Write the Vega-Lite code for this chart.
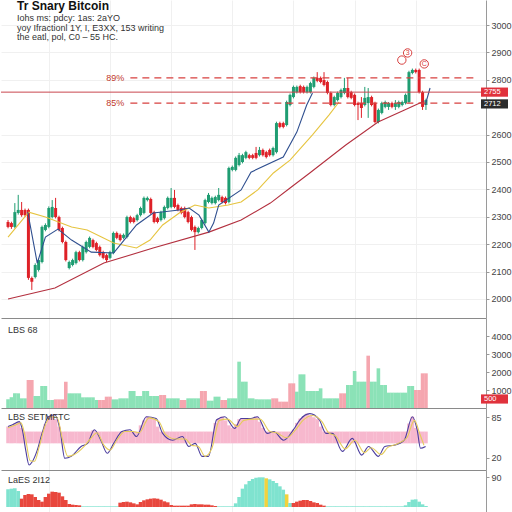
{
"$schema": "https://vega.github.io/schema/vega-lite/v6.json",
"padding": 0,
"spacing": 0,
"bounds": "flush",
"background": "white",
"resolve": {"scale": {"color": "independent"}},
"config": {"view": {"stroke": null}, "font": "Liberation Sans", "axis": {"labelFont": "Liberation Sans", "labelColor": "#444", "labelFontSize": 9, "domainColor": "#9a9a9a", "tickColor": "#9a9a9a", "tickSize": 3, "gridColor": "#f0f0f0", "title": null, "labelOverlap": false, "labelPadding": 2, "format": "d"}},
"datasets": {
"candles": [
{"i":0,"o":2281,"h":2288,"l":2258,"c":2263,"v":480,"vd":"g","k":70,"m":53,"md":"c"},
{"i":1,"o":2277,"h":2282,"l":2256,"c":2263,"v":600,"vd":"g","k":72,"m":55,"md":"c"},
{"i":2,"o":2263,"h":2350,"l":2258,"c":2317,"v":815,"vd":"g","k":75,"m":56,"md":"c"},
{"i":3,"o":2314,"h":2380,"l":2308,"c":2325,"v":815,"vd":"g","k":77,"m":48,"md":"c"},
{"i":4,"o":2325,"h":2354,"l":2300,"c":2306,"v":537,"vd":"g","k":68,"m":25,"md":"r"},
{"i":5,"o":2325,"h":2330,"l":2300,"c":2306,"v":537,"vd":"g","k":62,"m":36,"md":"r"},
{"i":6,"o":2325,"h":2330,"l":2070,"c":2077,"v":1556,"vd":"p","k":62,"m":39,"md":"r"},
{"i":7,"o":2077,"h":2082,"l":2033,"c":2063,"v":1556,"vd":"p","k":62,"m":38,"md":"r"},
{"i":8,"o":2080,"h":2130,"l":2075,"c":2124,"v":667,"vd":"g","k":62,"m":30,"md":"r"},
{"i":9,"o":2106,"h":2148,"l":2100,"c":2142,"v":667,"vd":"g","k":62,"m":21,"md":"r"},
{"i":10,"o":2135,"h":2268,"l":2130,"c":2263,"v":1222,"vd":"g","k":62,"m":16,"md":"r"},
{"i":11,"o":2252,"h":2276,"l":2247,"c":2270,"v":1222,"vd":"g","k":74,"m":30,"md":"r"},
{"i":12,"o":2263,"h":2338,"l":2258,"c":2332,"v":444,"vd":"g","k":87,"m":40,"md":"r"},
{"i":13,"o":2299,"h":2361,"l":2294,"c":2336,"v":444,"vd":"g","k":88,"m":46,"md":"r"},
{"i":14,"o":2332,"h":2369,"l":2294,"c":2299,"v":480,"vd":"p","k":82,"m":45,"md":"r"},
{"i":15,"o":2299,"h":2304,"l":2247,"c":2252,"v":480,"vd":"p","k":70,"m":43,"md":"r"},
{"i":16,"o":2259,"h":2264,"l":2203,"c":2208,"v":480,"vd":"p","k":62,"m":32,"md":"r"},
{"i":17,"o":2208,"h":2213,"l":2137,"c":2142,"v":1463,"vd":"p","k":62,"m":21,"md":"r"},
{"i":18,"o":2113,"h":2140,"l":2108,"c":2135,"v":815,"vd":"g","k":62,"m":9,"md":"r"},
{"i":19,"o":2124,"h":2147,"l":2119,"c":2142,"v":815,"vd":"g","k":62,"m":7,"md":"r"},
{"i":20,"o":2131,"h":2176,"l":2126,"c":2171,"v":815,"vd":"g","k":62,"m":6,"md":"r"},
{"i":21,"o":2171,"h":2176,"l":2137,"c":2142,"v":815,"vd":"g","k":62,"m":5,"md":"r"},
{"i":22,"o":2142,"h":2195,"l":2137,"c":2190,"v":593,"vd":"g","k":62,"m":2,"md":"c"},
{"i":23,"o":2171,"h":2213,"l":2166,"c":2208,"v":593,"vd":"g","k":62,"m":2,"md":"c"},
{"i":24,"o":2190,"h":2228,"l":2185,"c":2223,"v":593,"vd":"g","k":62,"m":2,"md":"c"},
{"i":25,"o":2215,"h":2220,"l":2185,"c":2190,"v":593,"vd":"g","k":64,"m":2,"md":"c"},
{"i":26,"o":2204,"h":2209,"l":2174,"c":2179,"v":444,"vd":"g","k":62,"m":2,"md":"c"},
{"i":27,"o":2190,"h":2195,"l":2155,"c":2160,"v":444,"vd":"p","k":62,"m":2,"md":"c"},
{"i":28,"o":2171,"h":2176,"l":2145,"c":2150,"v":444,"vd":"p","k":62,"m":2,"md":"c"},
{"i":29,"o":2160,"h":2165,"l":2135,"c":2142,"v":630,"vd":"p","k":62,"m":2,"md":"c"},
{"i":30,"o":2150,"h":2176,"l":2145,"c":2171,"v":630,"vd":"p","k":62,"m":2,"md":"c"},
{"i":31,"o":2168,"h":2246,"l":2163,"c":2241,"v":480,"vd":"g","k":62,"m":2,"md":"c"},
{"i":32,"o":2241,"h":2246,"l":2218,"c":2223,"v":480,"vd":"g","k":62,"m":2,"md":"c"},
{"i":33,"o":2234,"h":2239,"l":2210,"c":2215,"v":537,"vd":"g","k":62,"m":13,"md":"r"},
{"i":34,"o":2223,"h":2239,"l":2218,"c":2234,"v":537,"vd":"g","k":63,"m":15,"md":"r"},
{"i":35,"o":2226,"h":2304,"l":2221,"c":2299,"v":537,"vd":"g","k":64,"m":16,"md":"r"},
{"i":36,"o":2299,"h":2304,"l":2276,"c":2281,"v":944,"vd":"g","k":62,"m":14,"md":"r"},
{"i":37,"o":2295,"h":2300,"l":2276,"c":2281,"v":944,"vd":"g","k":62,"m":11,"md":"r"},
{"i":38,"o":2288,"h":2311,"l":2283,"c":2306,"v":667,"vd":"g","k":62,"m":8,"md":"r"},
{"i":39,"o":2306,"h":2337,"l":2301,"c":2332,"v":667,"vd":"g","k":72,"m":15,"md":"r"},
{"i":40,"o":2314,"h":2374,"l":2309,"c":2369,"v":944,"vd":"g","k":80,"m":20,"md":"r"},
{"i":41,"o":2361,"h":2374,"l":2356,"c":2369,"v":944,"vd":"g","k":86,"m":23,"md":"r"},
{"i":42,"o":2365,"h":2370,"l":2309,"c":2314,"v":667,"vd":"g","k":85,"m":25,"md":"r"},
{"i":43,"o":2317,"h":2322,"l":2276,"c":2281,"v":667,"vd":"g","k":83,"m":26,"md":"r"},
{"i":44,"o":2295,"h":2300,"l":2276,"c":2281,"v":667,"vd":"g","k":70,"m":25,"md":"r"},
{"i":45,"o":2288,"h":2322,"l":2283,"c":2317,"v":722,"vd":"p","k":62,"m":22,"md":"r"},
{"i":46,"o":2295,"h":2341,"l":2290,"c":2336,"v":722,"vd":"p","k":62,"m":17,"md":"r"},
{"i":47,"o":2332,"h":2374,"l":2327,"c":2369,"v":537,"vd":"g","k":62,"m":14,"md":"r"},
{"i":48,"o":2336,"h":2405,"l":2331,"c":2369,"v":537,"vd":"g","k":62,"m":6,"md":"r"},
{"i":49,"o":2369,"h":2398,"l":2331,"c":2336,"v":537,"vd":"g","k":62,"m":4,"md":"r"},
{"i":50,"o":2343,"h":2348,"l":2320,"c":2325,"v":537,"vd":"g","k":62,"m":4,"md":"r"},
{"i":51,"o":2332,"h":2337,"l":2309,"c":2314,"v":444,"vd":"p","k":62,"m":4,"md":"r"},
{"i":52,"o":2332,"h":2337,"l":2294,"c":2299,"v":444,"vd":"p","k":62,"m":4,"md":"r"},
{"i":53,"o":2317,"h":2322,"l":2276,"c":2281,"v":537,"vd":"g","k":62,"m":4,"md":"r"},
{"i":54,"o":2299,"h":2304,"l":2247,"c":2252,"v":537,"vd":"g","k":62,"m":8,"md":"r"},
{"i":55,"o":2263,"h":2268,"l":2179,"c":2244,"v":537,"vd":"g","k":62,"m":9,"md":"r"},
{"i":56,"o":2244,"h":2264,"l":2239,"c":2259,"v":537,"vd":"g","k":62,"m":8,"md":"r"},
{"i":57,"o":2259,"h":2293,"l":2254,"c":2288,"v":944,"vd":"p","k":62,"m":8,"md":"r"},
{"i":58,"o":2277,"h":2366,"l":2272,"c":2361,"v":944,"vd":"p","k":62,"m":7,"md":"r"},
{"i":59,"o":2354,"h":2387,"l":2349,"c":2380,"v":407,"vd":"g","k":62,"m":7,"md":"r"},
{"i":60,"o":2350,"h":2374,"l":2345,"c":2369,"v":407,"vd":"g","k":62,"m":5,"md":"r"},
{"i":61,"o":2350,"h":2377,"l":2345,"c":2372,"v":630,"vd":"g","k":76,"m":3,"md":"r"},
{"i":62,"o":2361,"h":2405,"l":2356,"c":2380,"v":630,"vd":"g","k":83,"m":2,"md":"c"},
{"i":63,"o":2372,"h":2377,"l":2349,"c":2354,"v":444,"vd":"p","k":86,"m":2,"md":"c"},
{"i":64,"o":2369,"h":2374,"l":2345,"c":2350,"v":444,"vd":"p","k":80,"m":2,"md":"c"},
{"i":65,"o":2354,"h":2483,"l":2349,"c":2478,"v":537,"vd":"g","k":72,"m":2,"md":"c"},
{"i":66,"o":2471,"h":2487,"l":2466,"c":2482,"v":537,"vd":"g","k":68,"m":2,"md":"c"},
{"i":67,"o":2471,"h":2520,"l":2466,"c":2515,"v":537,"vd":"g","k":74,"m":11,"md":"c"},
{"i":68,"o":2489,"h":2533,"l":2484,"c":2525,"v":2574,"vd":"g","k":82,"m":30,"md":"c"},
{"i":69,"o":2500,"h":2530,"l":2495,"c":2525,"v":1463,"vd":"g","k":83,"m":55,"md":"c"},
{"i":70,"o":2515,"h":2541,"l":2510,"c":2536,"v":1463,"vd":"g","k":83,"m":68,"md":"c"},
{"i":71,"o":2525,"h":2530,"l":2510,"c":2515,"v":537,"vd":"g","k":83,"m":78,"md":"c"},
{"i":72,"o":2525,"h":2530,"l":2510,"c":2515,"v":537,"vd":"g","k":84,"m":84,"md":"c"},
{"i":73,"o":2533,"h":2555,"l":2510,"c":2515,"v":480,"vd":"g","k":86,"m":88,"md":"c"},
{"i":74,"o":2525,"h":2555,"l":2520,"c":2544,"v":480,"vd":"g","k":78,"m":89,"md":"c"},
{"i":75,"o":2544,"h":2549,"l":2520,"c":2525,"v":480,"vd":"g","k":68,"m":89,"md":"c"},
{"i":76,"o":2536,"h":2541,"l":2513,"c":2518,"v":480,"vd":"g","k":62,"m":86,"md":"y"},
{"i":77,"o":2544,"h":2549,"l":2520,"c":2525,"v":480,"vd":"g","k":62,"m":83,"md":"c"},
{"i":78,"o":2525,"h":2556,"l":2520,"c":2551,"v":537,"vd":"p","k":62,"m":78,"md":"c"},
{"i":79,"o":2536,"h":2647,"l":2531,"c":2642,"v":537,"vd":"p","k":62,"m":72,"md":"c"},
{"i":80,"o":2642,"h":2647,"l":2623,"c":2628,"v":352,"vd":"p","k":62,"m":62,"md":"c"},
{"i":81,"o":2642,"h":2647,"l":2623,"c":2628,"v":352,"vd":"p","k":62,"m":52,"md":"c"},
{"i":82,"o":2635,"h":2724,"l":2630,"c":2719,"v":352,"vd":"p","k":62,"m":38,"md":"y"},
{"i":83,"o":2708,"h":2750,"l":2703,"c":2745,"v":1370,"vd":"p","k":62,"m":12,"md":"c"},
{"i":84,"o":2737,"h":2779,"l":2732,"c":2774,"v":1370,"vd":"p","k":65,"m":12,"md":"r"},
{"i":85,"o":2755,"h":2779,"l":2750,"c":2774,"v":907,"vd":"g","k":76,"m":16,"md":"r"},
{"i":86,"o":2777,"h":2782,"l":2750,"c":2755,"v":1870,"vd":"g","k":83,"m":19,"md":"r"},
{"i":87,"o":2774,"h":2779,"l":2750,"c":2755,"v":1870,"vd":"g","k":87,"m":21,"md":"r"},
{"i":88,"o":2755,"h":2779,"l":2750,"c":2774,"v":944,"vd":"g","k":91,"m":21,"md":"r"},
{"i":89,"o":2755,"h":2793,"l":2750,"c":2788,"v":944,"vd":"g","k":88,"m":18,"md":"r"},
{"i":90,"o":2774,"h":2812,"l":2769,"c":2807,"v":944,"vd":"g","k":85,"m":14,"md":"r"},
{"i":91,"o":2807,"h":2828,"l":2791,"c":2796,"v":944,"vd":"g","k":82,"m":12,"md":"r"},
{"i":92,"o":2807,"h":2812,"l":2787,"c":2792,"v":1093,"vd":"g","k":70,"m":7,"md":"r"},
{"i":93,"o":2799,"h":2828,"l":2776,"c":2781,"v":537,"vd":"g","k":62,"m":4,"md":"r"},
{"i":94,"o":2792,"h":2797,"l":2747,"c":2752,"v":537,"vd":"g","k":62,"m":2,"md":"c"},
{"i":95,"o":2752,"h":2757,"l":2703,"c":2708,"v":537,"vd":"g","k":62,"m":2,"md":"c"},
{"i":96,"o":2708,"h":2742,"l":2703,"c":2737,"v":537,"vd":"g","k":62,"m":2,"md":"c"},
{"i":97,"o":2726,"h":2757,"l":2721,"c":2752,"v":537,"vd":"g","k":62,"m":2,"md":"c"},
{"i":98,"o":2737,"h":2768,"l":2732,"c":2763,"v":815,"vd":"p","k":62,"m":2,"md":"c"},
{"i":99,"o":2752,"h":2807,"l":2747,"c":2770,"v":815,"vd":"p","k":62,"m":2,"md":"c"},
{"i":100,"o":2770,"h":2807,"l":2732,"c":2737,"v":1278,"vd":"g","k":62,"m":2,"md":"c"},
{"i":101,"o":2755,"h":2760,"l":2729,"c":2734,"v":1278,"vd":"g","k":62,"m":2,"md":"c"},
{"i":102,"o":2745,"h":2750,"l":2703,"c":2708,"v":2056,"vd":"g","k":62,"m":2,"md":"c"},
{"i":103,"o":2715,"h":2720,"l":2653,"c":2708,"v":1463,"vd":"g","k":62,"m":2,"md":"c"},
{"i":104,"o":2715,"h":2737,"l":2661,"c":2697,"v":1463,"vd":"g","k":62,"m":2,"md":"c"},
{"i":105,"o":2708,"h":2774,"l":2703,"c":2734,"v":1463,"vd":"g","k":62,"m":2,"md":"c"},
{"i":106,"o":2715,"h":2770,"l":2661,"c":2737,"v":2907,"vd":"p","k":62,"m":2,"md":"c"},
{"i":107,"o":2737,"h":2742,"l":2703,"c":2708,"v":1463,"vd":"g","k":62,"m":2,"md":"c"},
{"i":108,"o":2715,"h":2720,"l":2641,"c":2646,"v":1463,"vd":"g","k":62,"m":2,"md":"c"},
{"i":109,"o":2646,"h":2695,"l":2641,"c":2690,"v":2204,"vd":"g","k":62,"m":2,"md":"c"},
{"i":110,"o":2679,"h":2720,"l":2674,"c":2715,"v":1278,"vd":"g","k":62,"m":2,"md":"c"},
{"i":111,"o":2701,"h":2724,"l":2696,"c":2719,"v":1278,"vd":"g","k":62,"m":2,"md":"c"},
{"i":112,"o":2701,"h":2719,"l":2690,"c":2715,"v":852,"vd":"g","k":62,"m":2,"md":"c"},
{"i":113,"o":2715,"h":2720,"l":2696,"c":2701,"v":852,"vd":"g","k":62,"m":2,"md":"c"},
{"i":114,"o":2701,"h":2726,"l":2690,"c":2715,"v":852,"vd":"g","k":62,"m":2,"md":"c"},
{"i":115,"o":2701,"h":2724,"l":2696,"c":2719,"v":852,"vd":"g","k":62,"m":2,"md":"c"},
{"i":116,"o":2708,"h":2724,"l":2703,"c":2719,"v":852,"vd":"g","k":62,"m":2,"md":"c"},
{"i":117,"o":2715,"h":2750,"l":2710,"c":2745,"v":852,"vd":"g","k":62,"m":5,"md":"c"},
{"i":118,"o":2719,"h":2833,"l":2714,"c":2828,"v":1222,"vd":"g","k":75,"m":15,"md":"c"},
{"i":119,"o":2825,"h":2841,"l":2820,"c":2836,"v":1222,"vd":"g","k":86,"m":22,"md":"c"},
{"i":120,"o":2836,"h":2841,"l":2823,"c":2828,"v":1000,"vd":"p","k":68,"m":23,"md":"c"},
{"i":121,"o":2836,"h":2841,"l":2750,"c":2755,"v":1000,"vd":"p","k":62,"m":16,"md":"c"},
{"i":122,"o":2755,"h":2760,"l":2690,"c":2701,"v":1926,"vd":"p","k":62,"m":8,"md":"c"},
{"i":123,"o":2708,"h":2731,"l":2690,"c":2726,"v":1926,"vd":"p","k":62,"m":3,"md":"c"}
],
"ma": [
{"s":"slow","i":0,"p":2000},{"s":"slow","i":13.8,"p":2040},{"s":"slow","i":28.2,"p":2131},{"s":"slow","i":42.7,"p":2186},{"s":"slow","i":59.1,"p":2244},{"s":"slow","i":68.6,"p":2288},{"s":"slow","i":77.2,"p":2350},{"s":"slow","i":83,"p":2405},{"s":"slow","i":88.8,"p":2460},{"s":"slow","i":99.4,"p":2562},{"s":"slow","i":108.9,"p":2646},{"s":"slow","i":116.7,"p":2690},{"s":"slow","i":122.5,"p":2723},
{"s":"mid","i":0,"p":2226},{"s":"mid","i":6.1,"p":2317},{"s":"mid","i":11,"p":2299},{"s":"mid","i":18.7,"p":2263},{"s":"mid","i":23.3,"p":2252},{"s":"mid","i":31.1,"p":2204},{"s":"mid","i":37.8,"p":2186},{"s":"mid","i":41.8,"p":2215},{"s":"mid","i":45.5,"p":2270},{"s":"mid","i":50.4,"p":2314},{"s":"mid","i":55,"p":2343},{"s":"mid","i":59.1,"p":2332},{"s":"mid","i":64.8,"p":2343},{"s":"mid","i":68.6,"p":2354},{"s":"mid","i":73.5,"p":2398},{"s":"mid","i":78.1,"p":2460},{"s":"mid","i":83,"p":2507},{"s":"mid","i":89.6,"p":2599},{"s":"mid","i":94.5,"p":2672},{"s":"mid","i":97.4,"p":2719},
{"s":"fast","i":5.8,"p":2317},{"s":"fast","i":8.6,"p":2131},{"s":"fast","i":11,"p":2226},{"s":"fast","i":14.7,"p":2255},{"s":"fast","i":18.7,"p":2215},{"s":"fast","i":24.5,"p":2171},{"s":"fast","i":31.1,"p":2168},{"s":"fast","i":37.8,"p":2270},{"s":"fast","i":42.7,"p":2314},{"s":"fast","i":50.4,"p":2325},{"s":"fast","i":53.3,"p":2332},{"s":"fast","i":56.2,"p":2306},{"s":"fast","i":59.1,"p":2244},{"s":"fast","i":60.5,"p":2277},{"s":"fast","i":62,"p":2343},{"s":"fast","i":68.6,"p":2398},{"s":"fast","i":71.5,"p":2463},{"s":"fast","i":81,"p":2518},{"s":"fast","i":85,"p":2609},{"s":"fast","i":87.9,"p":2708},{"s":"fast","i":89.6,"p":2752},
{"s":"fast2","i":122.8,"p":2708},{"s":"fast2","i":124.2,"p":2770}
],
"osc": [
{"s":"k","i":0,"v":70},{"s":"k","i":1.3,"v":73},{"s":"k","i":3.3,"v":78},{"s":"k","i":4.2,"v":65},{"s":"k","i":5.2,"v":32},{"s":"k","i":6.2,"v":8},{"s":"k","i":7.1,"v":13},{"s":"k","i":8.6,"v":32},{"s":"k","i":10,"v":59},{"s":"k","i":11.9,"v":86},{"s":"k","i":13.8,"v":89},{"s":"k","i":15.3,"v":65},{"s":"k","i":16.7,"v":19},{"s":"k","i":18.6,"v":22},{"s":"k","i":21.5,"v":38},{"s":"k","i":23.4,"v":43},{"s":"k","i":25.4,"v":65},{"s":"k","i":27.3,"v":48},{"s":"k","i":29.2,"v":27},{"s":"k","i":31.1,"v":43},{"s":"k","i":33.5,"v":62},{"s":"k","i":35.9,"v":65},{"s":"k","i":37.8,"v":54},{"s":"k","i":40.7,"v":86},{"s":"k","i":43.6,"v":83},{"s":"k","i":45.5,"v":59},{"s":"k","i":48.4,"v":48},{"s":"k","i":51.3,"v":54},{"s":"k","i":53.2,"v":38},{"s":"k","i":55.1,"v":43},{"s":"k","i":57.1,"v":22},{"s":"k","i":59,"v":22},{"s":"k","i":61.4,"v":81},{"s":"k","i":63.8,"v":86},{"s":"k","i":66.7,"v":67},{"s":"k","i":68.6,"v":83},{"s":"k","i":71.5,"v":83},{"s":"k","i":73.4,"v":86},{"s":"k","i":76.3,"v":59},{"s":"k","i":78.2,"v":62},{"s":"k","i":81.1,"v":48},{"s":"k","i":84,"v":65},{"s":"k","i":85.9,"v":81},{"s":"k","i":88.8,"v":91},{"s":"k","i":91.6,"v":81},{"s":"k","i":93.6,"v":59},{"s":"k","i":95.5,"v":59},{"s":"k","i":98.4,"v":30},{"s":"k","i":101.3,"v":51},{"s":"k","i":104.1,"v":24},{"s":"k","i":106.1,"v":38},{"s":"k","i":109,"v":22},{"s":"k","i":110.9,"v":38},{"s":"k","i":113.7,"v":40},{"s":"k","i":116.6,"v":48},{"s":"k","i":119,"v":86},{"s":"k","i":120.4,"v":65},{"s":"k","i":121.4,"v":35},{"s":"k","i":122.9,"v":38},
{"s":"d","i":0,"v":68},{"s":"d","i":2,"v":72},{"s":"d","i":3.8,"v":76},{"s":"d","i":5,"v":55},{"s":"d","i":6.5,"v":15},{"s":"d","i":7.8,"v":14},{"s":"d","i":9.2,"v":38},{"s":"d","i":10.8,"v":70},{"s":"d","i":12.6,"v":86},{"s":"d","i":14.4,"v":85},{"s":"d","i":16,"v":50},{"s":"d","i":17.6,"v":22},{"s":"d","i":19.5,"v":25},{"s":"d","i":22.4,"v":38},{"s":"d","i":24.2,"v":50},{"s":"d","i":26.2,"v":60},{"s":"d","i":28.2,"v":40},{"s":"d","i":30,"v":32},{"s":"d","i":32,"v":48},{"s":"d","i":34.4,"v":62},{"s":"d","i":36.8,"v":62},{"s":"d","i":38.6,"v":60},{"s":"d","i":41.5,"v":84},{"s":"d","i":44.4,"v":78},{"s":"d","i":46.4,"v":57},{"s":"d","i":49.3,"v":50},{"s":"d","i":52.2,"v":50},{"s":"d","i":54,"v":40},{"s":"d","i":56,"v":38},{"s":"d","i":58,"v":22},{"s":"d","i":60,"v":35},{"s":"d","i":62.2,"v":80},{"s":"d","i":64.6,"v":82},{"s":"d","i":67.5,"v":70},{"s":"d","i":69.4,"v":80},{"s":"d","i":72.4,"v":82},{"s":"d","i":74.2,"v":82},{"s":"d","i":77.1,"v":62},{"s":"d","i":79,"v":60},{"s":"d","i":82,"v":52},{"s":"d","i":84.8,"v":66},{"s":"d","i":86.8,"v":80},{"s":"d","i":89.6,"v":88},{"s":"d","i":92.4,"v":78},{"s":"d","i":94.4,"v":60},{"s":"d","i":96.4,"v":55},{"s":"d","i":99.2,"v":34},{"s":"d","i":102.1,"v":48},{"s":"d","i":104.9,"v":28},{"s":"d","i":106.9,"v":36},{"s":"d","i":109.8,"v":25},{"s":"d","i":111.7,"v":36},{"s":"d","i":114.5,"v":42},{"s":"d","i":117.4,"v":52},{"s":"d","i":119.6,"v":80},{"s":"d","i":121.2,"v":58},{"s":"d","i":122.4,"v":40}
],
"levels": [{"p":2807,"x1":36,"x2":137,"lab":"89%"},{"p":2715,"x1":36,"x2":137,"lab":"85%"}],
"tags": [{"p":2755,"t":"2755","k":"r"},{"p":2712,"t":"2712","k":"d"}],
"notes": [{"i":117.6,"p":2898,"t":"3"},{"i":115.9,"p":2872,"t":""},{"i":122.5,"p":2858,"t":"C"}]
},
"vconcat": [
{
"width": 485, "height": 318,
"title": {"text": "Tr Snary Bitcoin", "subtitle": ["Iohs ms: pdcy: 1as: 2aYO", "yoy Ifractionl 1Y, I, E3XX, 153 writing", "the eatl, pol, C0 – 55 HC."], "anchor": "start", "frame": "group", "orient": "top", "offset": -43, "dx": 16, "font": "Liberation Sans", "fontSize": 12, "fontWeight": "bold", "color": "#111", "subtitleFont": "Liberation Sans", "subtitleFontSize": 9, "subtitleColor": "#333", "subtitlePadding": 1, "subtitleLineHeight": 9.5},
"resolve": {"scale": {"color": "independent"}},
"layer": [
{"data": {"name": "candles"}, "mark": {"type": "rule", "strokeWidth": 1},
 "encoding": {
  "x": {"field": "i", "type": "quantitative", "scale": {"domain": [-0.6, 139.2], "nice": false, "zero": false}, "axis": {"orient": "bottom", "labels": false, "ticks": false, "domain": false, "grid": true, "values": [12, 30, 48, 66, 84, 102, 120], "tickCount": 20, "title": null}},
  "y": {"field": "l", "type": "quantitative", "scale": {"domain": [1930.6, 3091.25], "nice": false, "zero": false}, "axis": {"orient": "right", "grid": true, "values": [2000, 2100, 2200, 2300, 2400, 2500, 2600, 2800, 2900, 3000], "tickCount": 20, "title": null, "format": "d", "labelOverlap": false}},
  "y2": {"field": "h"},
  "color": {"condition": {"test": "datum.c >= datum.o", "value": "#1f9d72"}, "value": "#de2128"}}},
{"data": {"name": "candles"}, "mark": {"type": "bar", "size": 3},
 "encoding": {
  "x": {"field": "i", "type": "quantitative"},
  "y": {"field": "o", "type": "quantitative"},
  "y2": {"field": "c"},
  "color": {"condition": {"test": "datum.c >= datum.o", "value": "#1f9d72"}, "value": "#de2128"}}},
{"data": {"name": "ma"}, "mark": {"type": "line", "strokeWidth": 1.1},
 "encoding": {
  "x": {"field": "i", "type": "quantitative"},
  "y": {"field": "p", "type": "quantitative"},
  "detail": {"field": "s"},
  "color": {"field": "s", "type": "nominal", "scale": {"domain": ["slow", "mid", "fast", "fast2"], "range": ["#b3303f", "#e6c43f", "#2f4f8f", "#2f4f8f"]}, "legend": null}}},
{"data": {"name": "levels"}, "mark": {"type": "rule", "strokeDash": [7, 5], "strokeWidth": 1.2, "color": "#d8403f"},
 "encoding": {
  "x": {"field": "x1", "type": "quantitative"},
  "x2": {"field": "x2"},
  "y": {"field": "p", "type": "quantitative"}}},
{"data": {"name": "levels"}, "mark": {"type": "text", "align": "right", "baseline": "middle", "dx": -6, "fontSize": 9, "color": "#c0392b"},
 "encoding": {
  "x": {"field": "x1", "type": "quantitative"},
  "y": {"field": "p", "type": "quantitative"},
  "text": {"field": "lab"}}},
{"data": {"values": [{"p": 2755}]}, "mark": {"type": "rule", "strokeWidth": 1, "color": "#c9474f"},
 "encoding": {"y": {"field": "p", "type": "quantitative"}}},
{"data": {"name": "tags"}, "mark": {"type": "point", "filled": true, "opacity": 1, "size": 729, "shape": "M0,-0.34L2,-0.34L2,0.34L0,0.34Z", "clip": false},
 "encoding": {
  "x": {"datum": 139.2, "type": "quantitative"},
  "y": {"field": "p", "type": "quantitative"},
  "color": {"field": "k", "type": "nominal", "scale": {"domain": ["r", "d"], "range": ["#e0323c", "#2b2b2b"]}, "legend": null}}},
{"data": {"name": "tags"}, "mark": {"type": "text", "align": "left", "baseline": "middle", "dx": 3, "fontSize": 7.5, "color": "white"},
 "encoding": {
  "x": {"datum": 139.2, "type": "quantitative"},
  "y": {"field": "p", "type": "quantitative"},
  "text": {"field": "t"}}},
{"data": {"name": "notes"}, "mark": {"type": "point", "shape": "circle", "size": 70, "stroke": "#d8403f", "strokeWidth": 1, "fill": "white", "filled": false, "opacity": 1},
 "encoding": {
  "x": {"field": "i", "type": "quantitative"},
  "y": {"field": "p", "type": "quantitative"}}},
{"data": {"name": "notes"}, "mark": {"type": "text", "align": "center", "baseline": "middle", "fontSize": 7, "color": "#d8403f"},
 "encoding": {
  "x": {"field": "i", "type": "quantitative"},
  "y": {"field": "p", "type": "quantitative"},
  "text": {"field": "t"}}}
]
},
{
"width": 485, "height": 90,
"title": {"text": "LBS 68", "anchor": "start", "frame": "group", "orient": "top", "offset": -17, "dx": 7, "fontSize": 9, "fontWeight": "normal", "color": "#333"},
"layer": [
{"data": {"name": "candles"}, "mark": {"type": "bar", "size": 3.6},
 "encoding": {
  "x": {"field": "i", "type": "quantitative", "scale": {"domain": [-0.6, 139.2], "nice": false, "zero": false}, "axis": {"orient": "top", "labels": false, "ticks": false, "domain": true, "domainColor": "#8a8a8a", "grid": true, "values": [12, 30, 48, 66, 84, 102, 120], "tickCount": 20, "title": null}},
  "y": {"field": "v", "type": "quantitative", "scale": {"domain": [0, 5000], "nice": false}, "axis": {"orient": "right", "grid": false, "values": [1000, 2000, 3000, 4000], "tickCount": 20, "title": null, "format": "d", "labelOverlap": false}},
  "color": {"field": "vd", "type": "nominal", "scale": {"domain": ["g", "p"], "range": ["#8be2b7", "#f5a6af"]}, "legend": null}}},
{"data": {"values": [{"p": 500, "t": "500"}]}, "mark": {"type": "point", "filled": true, "opacity": 1, "size": 729, "shape": "M0,-0.34L2,-0.34L2,0.34L0,0.34Z", "clip": false, "color": "#e0323c"},
 "encoding": {
  "x": {"datum": 139.2, "type": "quantitative"},
  "y": {"field": "p", "type": "quantitative"}}},
{"data": {"values": [{"p": 500, "t": "500"}]}, "mark": {"type": "text", "align": "left", "baseline": "middle", "dx": 3, "fontSize": 7.5, "color": "white"},
 "encoding": {
  "x": {"datum": 139.2, "type": "quantitative"},
  "y": {"field": "p", "type": "quantitative"},
  "text": {"field": "t"}}}
]
},
{
"width": 485, "height": 62,
"title": {"text": "LBS SETMFTC", "anchor": "start", "frame": "group", "orient": "top", "offset": -14, "dx": 7, "fontSize": 9, "fontWeight": "normal", "color": "#333"},
"layer": [
{"data": {"name": "candles"}, "mark": {"type": "bar", "size": 3.6, "color": "#f7b8ce"},
 "encoding": {
  "x": {"field": "i", "type": "quantitative", "scale": {"domain": [-0.6, 139.2], "nice": false, "zero": false}, "axis": {"orient": "top", "labels": false, "ticks": false, "domain": true, "domainColor": "#8a8a8a", "grid": true, "values": [12, 30, 48, 66, 84, 102, 120], "tickCount": 20, "title": null}},
  "y": {"field": "k", "type": "quantitative", "scale": {"domain": [0, 100], "nice": false}, "axis": {"orient": "right", "grid": false, "values": [20, 85], "tickCount": 20, "title": null, "format": "d", "labelOverlap": false}},
  "y2": {"datum": 43}}},
{"data": {"name": "osc"}, "mark": {"type": "line", "strokeWidth": 1.1, "interpolate": "monotone"},
 "encoding": {
  "x": {"field": "i", "type": "quantitative"},
  "y": {"field": "v", "type": "quantitative"},
  "detail": {"field": "s"},
  "color": {"field": "s", "type": "nominal", "scale": {"domain": ["d", "k"], "range": ["#e5cc5a", "#4b3d9e"]}, "legend": null}}}
]
},
{
"width": 485, "height": 42,
"title": {"text": "LaES 2I12", "anchor": "start", "frame": "group", "orient": "top", "offset": -15, "dx": 7, "fontSize": 9, "fontWeight": "normal", "color": "#333"},
"layer": [
{"data": {"name": "candles"}, "mark": {"type": "bar", "size": 3.6},
 "encoding": {
  "x": {"field": "i", "type": "quantitative", "scale": {"domain": [-0.6, 139.2], "nice": false, "zero": false}, "axis": {"orient": "top", "labels": false, "ticks": false, "domain": true, "domainColor": "#8a8a8a", "grid": true, "values": [12, 30, 48, 66, 84, 102, 120], "tickCount": 20, "title": null}},
  "y": {"field": "m", "type": "quantitative", "scale": {"domain": [-15, 111], "nice": false}, "axis": {"orient": "right", "grid": false, "values": [90], "tickCount": 20, "title": null, "format": "d", "labelOverlap": false}},
  "color": {"field": "md", "type": "nominal", "scale": {"domain": ["c", "r", "y"], "range": ["#7fe3cf", "#e8473d", "#f2d23c"]}, "legend": null}}}
]
}
]
}
